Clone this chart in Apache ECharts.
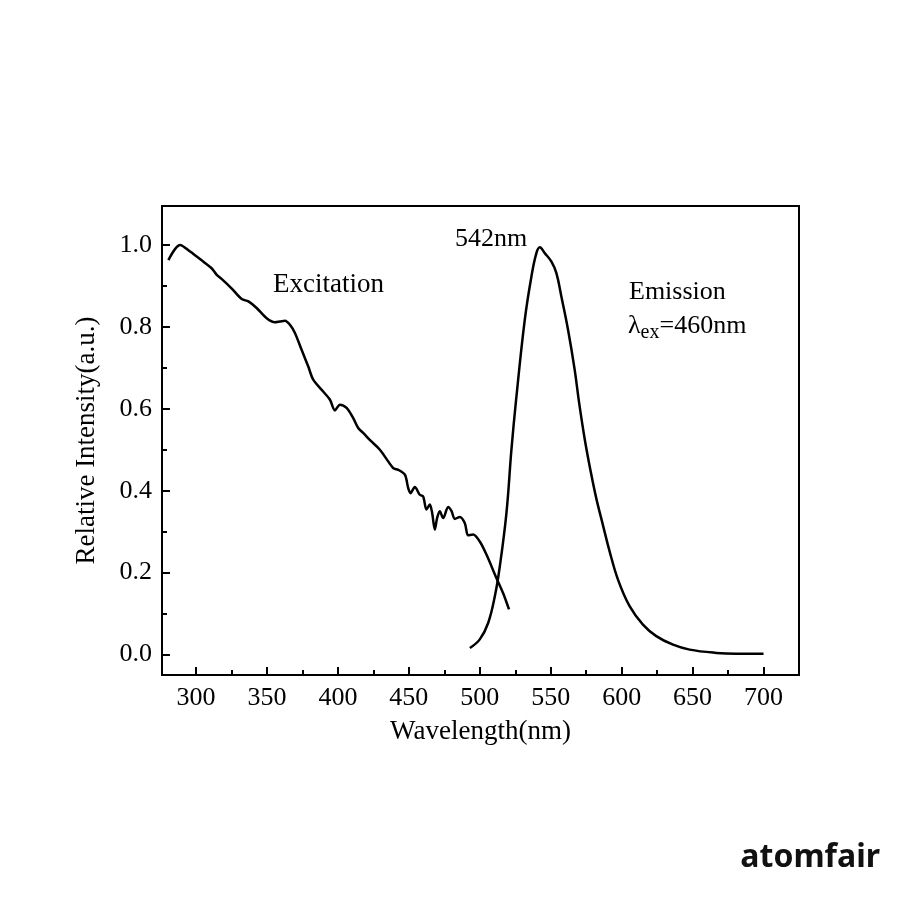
<!DOCTYPE html>
<html>
<head>
<meta charset="utf-8">
<script src="https://cdn.jsdelivr.net/npm/echarts@6/dist/echarts.min.js"></script>
<style>
  html, body { margin: 0; padding: 0; background: #fff; }
  #chart { width: 900px; height: 900px; }
</style>
</head>
<body>
<div id="chart"></div>
<script>
// excitation spectrum
var excWave = [280.5, 288.7, 295.8, 305.2, 311, 314.6, 318, 325, 332.2, 336.9, 342.7, 349.8, 355.6, 359.2, 362.7, 366.2,
	369.7, 374.4, 379.1, 382.6, 389.6, 394.4, 397.9, 401.4, 406.1, 410.8, 414.3, 417.8, 423, 429.6, 439, 442.5, 447.2,
	449.5, 451.2, 454.2, 457.7, 460.1, 462.4, 464.8, 466.4, 468.3, 469.9, 471.8, 474.2, 477.7, 480.1, 482.4, 485.9,
	489.4, 491.8, 495.3, 500, 504.7, 511.7, 516.4, 520.6];
var excInt = [0.963, 1.0, 0.984, 0.959, 0.943, 0.927, 0.917, 0.894, 0.868, 0.862, 0.846, 0.821, 0.811, 0.813, 0.815, 0.805,
	0.785, 0.744, 0.703, 0.671, 0.642, 0.622, 0.596, 0.610, 0.602, 0.577, 0.553, 0.541, 0.522, 0.5, 0.455, 0.451, 0.439,
	0.407, 0.394, 0.409, 0.390, 0.386, 0.354, 0.366, 0.346, 0.305, 0.333, 0.350, 0.333, 0.360, 0.350, 0.331, 0.336,
	0.321, 0.291, 0.293, 0.276, 0.244, 0.187, 0.150, 0.110];

// emission spectrum (excited at 460 nm)
var emWave = [493, 500, 505.9, 510.6, 514.1, 518.8, 522.3, 525.6, 531.7, 536.4, 539.9, 542.3, 545.8, 550.5, 554, 557.5,
	562.2, 566.9, 570, 574, 578, 582, 586.8, 591.5, 597.4, 605.6, 615, 624.4, 636.2, 647.9, 666.7, 680.7, 700];
var emInt = [0.016, 0.037, 0.077, 0.142, 0.215, 0.346, 0.5, 0.622, 0.817, 0.923, 0.98, 0.994, 0.98, 0.959, 0.931, 0.874,
	0.793, 0.695, 0.615, 0.525, 0.45, 0.383, 0.316, 0.252, 0.183, 0.118, 0.073, 0.045, 0.024, 0.012, 0.004, 0.002, 0.002];

var xMajor = [300, 350, 400, 450, 500, 550, 600, 650, 700];
var xMinor = [325, 375, 425, 475, 525, 575, 625, 675];
var yMajor = [0, 0.2, 0.4, 0.6, 0.8, 1.0];
var yMinor = [0.1, 0.3, 0.5, 0.7, 0.9];

function zip(a, b) {
	var out = [];
	for (var i = 0; i < a.length; i++) out.push([a[i], b[i]]);
	return out;
}

var font = '"Liberation Serif", "DejaVu Serif", serif';
var chart = echarts.init(document.getElementById('chart'));

var xBase = { type: 'value', min: 276, max: 725, gridIndex: 0, position: 'bottom', splitLine: { show: false } };
var yBase = { type: 'value', min: -0.05, max: 1.095, gridIndex: 0, position: 'left', splitLine: { show: false } };

chart.setOption({
	animation: false,
	backgroundColor: '#fff',
	grid: { left: 162, right: 101, top: 206, bottom: 225, show: true, borderColor: '#000', borderWidth: 2, backgroundColor: 'transparent' },
	xAxis: [
		echarts.util.merge({
			name: 'Wavelength(nm)', nameLocation: 'middle', nameGap: 43,
			nameTextStyle: { fontFamily: font, fontSize: 27, color: '#000' },
			axisLine: { show: true, onZero: false, lineStyle: { color: '#000', width: 2 } },
			axisTick: { show: true, inside: true, length: 8, lineStyle: { color: '#000', width: 2 }, customValues: xMajor },
			axisLabel: { show: true, margin: 10, fontFamily: font, fontSize: 26, color: '#000', customValues: xMajor }
		}, xBase),
		echarts.util.merge({
			axisLine: { show: false, onZero: false },
			axisTick: { show: true, inside: true, length: 5, lineStyle: { color: '#000', width: 2 }, customValues: xMinor },
			axisLabel: { show: false }
		}, xBase)
	],
	yAxis: [
		echarts.util.merge({
			name: 'Relative Intensity(a.u.)', nameLocation: 'middle', nameGap: 62, nameRotate: 90,
			nameTextStyle: { fontFamily: font, fontSize: 27, color: '#000' },
			axisLine: { show: true, onZero: false, lineStyle: { color: '#000', width: 2 } },
			axisTick: { show: true, inside: true, length: 8, lineStyle: { color: '#000', width: 2 }, customValues: yMajor },
			axisLabel: { show: true, margin: 10, fontFamily: font, fontSize: 26, color: '#000', customValues: yMajor,
				formatter: function (v) { return v.toFixed(1); } }
		}, yBase),
		echarts.util.merge({
			axisLine: { show: false, onZero: false },
			axisTick: { show: true, inside: true, length: 5, lineStyle: { color: '#000', width: 2 }, customValues: yMinor },
			axisLabel: { show: false }
		}, yBase)
	],
	series: [
		{ name: 'Excitation', type: 'line', data: zip(excWave, excInt), showSymbol: false, smooth: 0.3,
			lineStyle: { color: '#000', width: 2.5 }, clip: true },
		{ name: 'Emission', type: 'line', data: zip(emWave, emInt), showSymbol: false, smooth: 0.4,
			lineStyle: { color: '#000', width: 2.5 }, clip: true }
	],
	graphic: [
		{ type: 'text', left: 455, top: 226, style: { text: '542nm', font: '26px ' + font, fill: '#000' } },
		{ type: 'text', left: 273, top: 271, style: { text: 'Excitation', font: '27px ' + font, fill: '#000' } },
		{ type: 'text', left: 629, top: 279, style: { text: 'Emission', font: '26px ' + font, fill: '#000' } },
		{ type: 'text', left: 628, top: 309, style: {
			text: '{a|λ}{b|ex}{a|=460nm}',
			rich: {
				a: { fontFamily: font, fontSize: 26, fill: '#000', lineHeight: 30 },
				b: { fontFamily: font, fontSize: 20, fill: '#000', padding: [14, 0, 0, 0], lineHeight: 30 }
			}
		} },
		{ type: 'text', right: 20, top: 842, style: { text: 'atomfair', font: 'bold 32px "Noto Sans", Inter, sans-serif', fill: '#111' } }
	]
});
</script>
</body>
</html>
